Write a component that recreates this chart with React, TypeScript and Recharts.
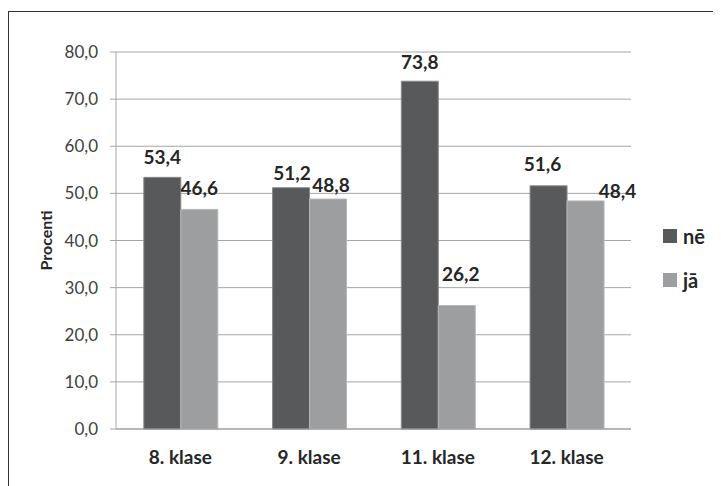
import { BarChart, Bar, XAxis, YAxis, CartesianGrid, Legend, LabelList } from 'recharts'

const classes = ['8. klase', '9. klase', '11. klase', '12. klase']
const ne = [53.4, 51.2, 73.8, 51.6]
const ja = [46.6, 48.8, 26.2, 48.4]
const yTicks = [0, 10, 20, 30, 40, 50, 60, 70, 80]

// hand-placed label nudges (dx, dy) per bar
const neNudge = [[0, -1], [1, 5], [0, 0], [-6, -2]]
const jaNudge = [[0, -2], [3, 5], [4, -12], [32, 10]]

const rows = classes.map((name, i) => ({ name, ne: ne[i], ja: ja[i] }))

const DARK = '#58595b'
const LIGHT = '#9d9ea0'
const FONT = 'Lato, "Open Sans", sans-serif'

const fmt = (v: number) => v.toFixed(1).replace('.', ',')

function makeLabel(nudge: number[][]) {
  return (p: any) => {
    const [dx, dy] = nudge[p.index] ?? [0, 0]
    return (
      <text
        x={p.x + p.width / 2 + dx}
        y={p.y - 20 + dy}
        textAnchor="middle"
        dominantBaseline="central"
        fontFamily={FONT}
        fontWeight={700}
        fontSize={19}
        fill="#262626"
      >
        {fmt(p.value)}
      </text>
    )
  }
}

const YLabel = ({ viewBox }: any) => {
  const x = viewBox.x + 36
  const y = viewBox.y + viewBox.height / 2
  return (
    <text
      x={x}
      y={y}
      transform={`rotate(-90, ${x}, ${y})`}
      textAnchor="middle"
      dominantBaseline="central"
      fontFamily={FONT}
      fontWeight={700}
      fontSize={16}
      fill="#262626"
    >
      Procenti
    </text>
  )
}

const LegendBox = () => (
  <div style={{ fontFamily: FONT, fontWeight: 700, fontSize: 20, color: '#262626' }}>
    {[['nē', DARK], ['jā', LIGHT]].map(([label, color]) => (
      <div key={label} style={{ display: 'flex', alignItems: 'center', height: 44 }}>
        <span style={{ width: 14, height: 14, background: color, marginRight: 6 }} />
        <span>{label}</span>
      </div>
    ))}
  </div>
)

export default function App() {
  return (
    <div style={{ paddingTop: 3 }}>
      <div style={{ borderLeft: '1px solid #333', borderTop: '1px solid #333', width: 713, height: 475, background: '#fff' }}>
        <BarChart
          width={712}
          height={474}
          data={rows}
          margin={{ top: 40, right: 90, left: 0, bottom: 27 }}
          barCategoryGap="21.6%"
          barGap={0}
        >
          <CartesianGrid stroke="#a6a6a6" vertical={false} />
          <XAxis
            dataKey="name"
            tickLine={false}
            axisLine={{ stroke: '#9a9a9a' }}
            tickSize={8}
            tickMargin={14}
            tick={{ fill: '#262626', fontSize: 19, fontWeight: 700, fontFamily: FONT }}
            height={30}
          />
          <YAxis
            domain={[0, 80]}
            ticks={yTicks}
            tickFormatter={fmt}
            width={107}
            tickSize={6}
            tickMargin={12}
            tickLine={{ stroke: '#a6a6a6' }}
            axisLine={{ stroke: '#a6a6a6' }}
            tick={{ fill: '#404040', fontSize: 17, fontFamily: FONT }}
            label={<YLabel />}
          />
          <Legend
            layout="vertical"
            align="center"
            verticalAlign="middle"
            content={<LegendBox />}
            wrapperStyle={{ left: 654, top: 202, width: 60 }}
          />
          <Bar dataKey="ne" name="nē" fill={DARK} stroke="#8a8a8a" strokeWidth={1} isAnimationActive={false}>
            <LabelList dataKey="ne" content={makeLabel(neNudge)} />
          </Bar>
          <Bar dataKey="ja" name="jā" fill={LIGHT} stroke="#b8b8b8" strokeWidth={1} isAnimationActive={false}>
            <LabelList dataKey="ja" content={makeLabel(jaNudge)} />
          </Bar>
        </BarChart>
      </div>
    </div>
  )
}
